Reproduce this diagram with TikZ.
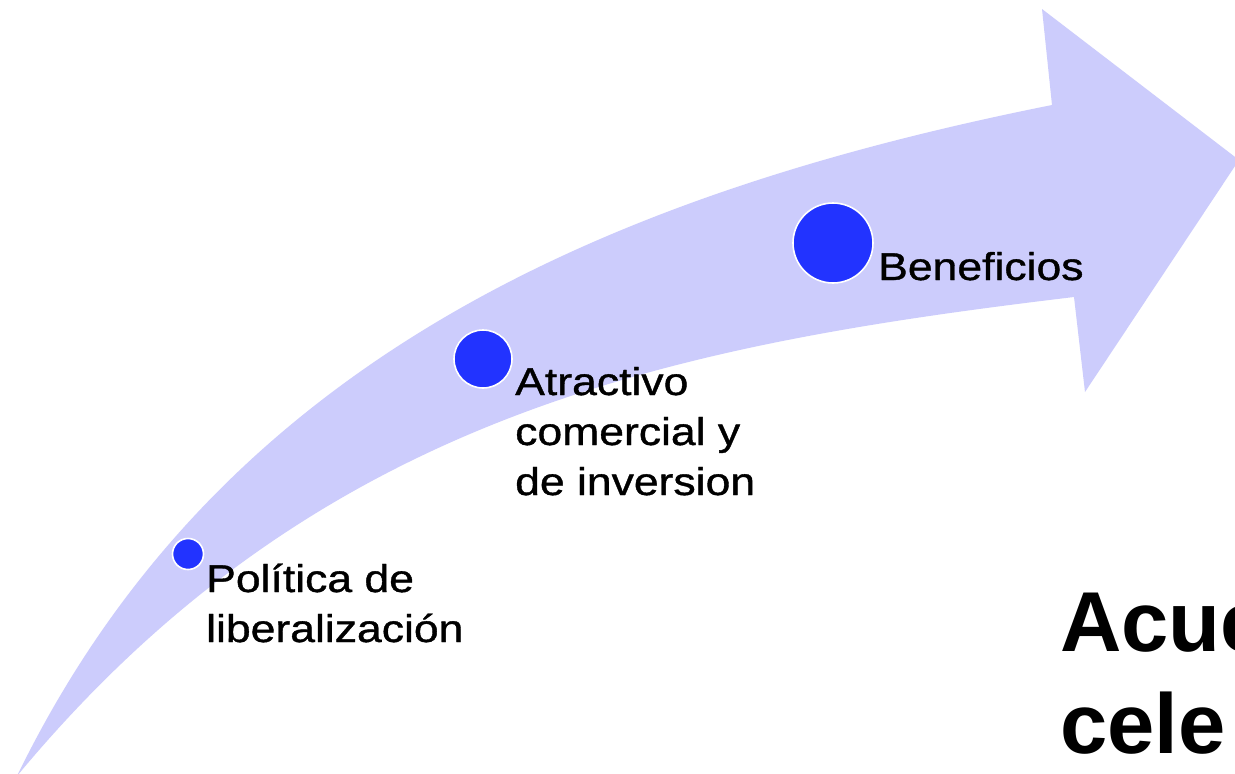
\documentclass[tikz,border=0pt]{standalone}
\usepackage{fontspec}
\setmainfont{Liberation Sans}
\newfontfamily\lblfont[FakeStretch=1.15,FakeBold=1]{Liberation Sans}
\newfontfamily\bigfont{Liberation Sans}
\definecolor{bandcol}{HTML}{CCCCFC}
\definecolor{dotcol}{HTML}{2233FF}
\begin{document}
\begin{tikzpicture}[x=1pt,y=-1pt,
  dot/.style={circle,fill=dotcol,draw=white,line width=1.6pt,inner sep=0pt},
  lbl/.style={anchor=base west,inner sep=0pt,align=left,text=black,
    font=\lblfont\fontsize{38.7}{50}\selectfont},
  bigtxt/.style={anchor=base west,inner sep=0pt,align=left,text=black,
    font=\bigfont\bfseries\fontsize{85}{102}\selectfont}]
\useasboundingbox (0,0) rectangle (1235,774);
\fill[white] (0,0) rectangle (1235,774);
% curved arrow
\fill[bandcol] (17,776) .. controls (218,363) and (602,195) .. (1052,105)
  -- (1042,9) -- (1239,160) -- (1085,392) -- (1074,297)
  .. controls (674,345) and (318,413) .. (17,776) -- cycle;
% dots
\node[dot,minimum size=31pt] (c1) at (188,554) {};
\node[dot,minimum size=58pt] (c2) at (483,359) {};
\node[dot,minimum size=80pt] (c3) at (833,243) {};
% labels (base anchor = baseline of the last line)
\node[lbl] (t1) at (206,642) {Política de\\liberalización};
\node[lbl] (t2) at (515,495) {Atractivo\\comercial y\\de inversion};
\node[lbl] (t3) at (878,280) {Beneficios};
\node[bigtxt] (t4) at (1060,753) {Acue\\cele};
\end{tikzpicture}
\end{document}
